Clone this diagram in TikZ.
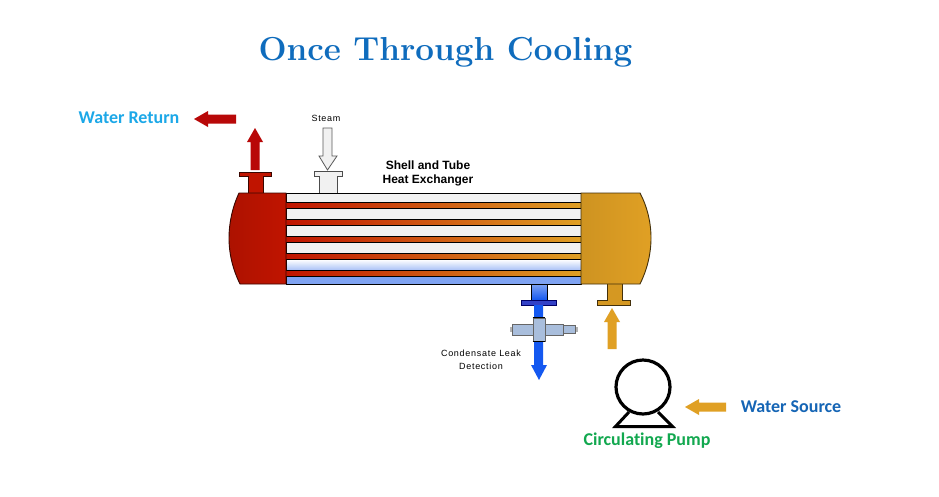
\documentclass[tikz,border=0pt]{standalone}
\usepackage{fontspec}
\setmainfont{Liberation Sans}
\newfontfamily\titlefont{Latin Modern Roman}
\newfontfamily\labelfont[Ligatures=NoCommon]{Carlito}
\usetikzlibrary{arrows}
\definecolor{hotred}{HTML}{C01400}
\definecolor{arrowred}{HTML}{B80808}
\definecolor{warmgold}{HTML}{E0A024}
\definecolor{coolblue}{HTML}{1458F0}
\definecolor{paleblue}{HTML}{7FA3F2}
\definecolor{valveblue}{HTML}{A9BEDC}
\definecolor{bandgray}{HTML}{F1F1F1}
\definecolor{titleblue}{HTML}{0F6CBD}
\definecolor{returnblue}{HTML}{1CA8E8}
\definecolor{sourceblue}{HTML}{1565B5}
\definecolor{pumpgreen}{HTML}{12A84F}
\tikzstyle{every picture}=[x=1pt, y=-1pt, line join=miter]
\tikzstyle{shell}=[draw=black, line width=0.8pt]
\tikzstyle{valvepart}=[draw=black!60, line width=0.6pt, fill=valveblue]
\tikzstyle{callout}=[font=\labelfont\bfseries\fontsize{18}{20}\selectfont, inner sep=0pt]
\tikzstyle{small}=[font=\fontsize{9}{12.5}\selectfont\addfontfeatures{LetterSpace=8}, inner sep=0pt, align=center]
\newcommand{\fatarrow}[5]{% colour, tip x, tip y, direction, length
  \fill[#1,shift={(#2,#3)},rotate=#4] (0,0) -- (14,-8) -- (14,-4.5) -- (#5,-4.5) -- (#5,4.5) -- (14,4.5) -- (14,8) -- cycle;}
\begin{document}
\begin{tikzpicture}
\useasboundingbox[fill=white] (0,0) rectangle (939,496);
% title and labels
\node[inner sep=0pt, text=titleblue, font=\titlefont\bfseries\fontsize{33.2}{36}\selectfont] (title) at (445.5,52) {Once Through Cooling};
\node[callout, text=returnblue] (waterreturn) at (129,118) {Water Return};
\node[callout, text=sourceblue] (watersource) at (791,407) {Water Source};
\node[callout, text=pumpgreen] (pumplabel) at (647,441) {Circulating Pump};
\node[small] (steamlabel) at (326,118) {Steam};
\node[small] (leaklabel) at (481,360) {Condensate Leak\\Detection};
\node[inner sep=0pt, align=center, font=\bfseries\fontsize{12}{14.5}\selectfont] (hxlabel) at (428,173.5) {Shell and Tube\\Heat Exchanger};
% nozzles on the shell
\path[shell, draw=black!70!hotred, fill=hotred] (248,194) -- (248,176) -- (239,176) -- (239,172) -- (271,172) -- (271,176) -- (263,176) -- (263,194);
\path[shell, draw=black!70, fill=bandgray] (319,194) -- (319,176) -- (314,176) -- (314,171) -- (342,171) -- (342,176) -- (337,176) -- (337,194);
\path[shell, top color=paleblue, bottom color=coolblue] (531,284) -- (531,300) -- (547,300) -- (547,284);
\path[shell, draw=black!60!blue, fill=blue!50!paleblue!80!black] (521,300) rectangle (556,305);
\path[shell, draw=black!70!warmgold, fill=warmgold!95!black] (607,284) -- (607,300) -- (597,300) -- (597,305) -- (630,305) -- (630,300) -- (622,300) -- (622,284);
% tube bundle
\path[left color=hotred, right color=warmgold] (286,193) rectangle (581,284);
\foreach \top/\bot in {193/202, 208/219, 225/236, 242/253}
  \draw[shell, fill=bandgray] (286,\top) rectangle (581,\bot);
\draw[shell, top color=white, bottom color=paleblue!70] (286,259.5) rectangle (581,270.5);
\draw[shell, fill=paleblue] (286,276) rectangle (581,284);
% heads
\draw[draw=black!70!hotred, line width=0.9pt, left color=hotred!90!black, right color=hotred] (286,193) -- (239,193) .. controls (232,208) and (229,224) .. (229,238) .. controls (229,254) and (233,270) .. (240,284) -- (286,284) -- cycle;
\draw[draw=black!70!warmgold, line width=0.9pt, left color=warmgold!92!black, right color=warmgold] (581,193) -- (640,193) .. controls (647,206) and (651,222) .. (651,238) .. controls (651,254) and (647,270) .. (640,284) -- (581,284) -- cycle;
% flow arrows
\fatarrow{arrowred}{194}{119}{0}{42}
\fatarrow{arrowred}{255}{128}{-90}{42}
\fatarrow{warmgold}{612}{308}{-90}{41}
\fatarrow{warmgold}{685}{407}{0}{41}
\fill[coolblue] (534,305) -- (543,305) -- (543,365) -- (547,365) -- (539,380) -- (531,365) -- (534,365) -- cycle;
\draw[draw=black!65, line width=0.8pt, fill=bandgray] (323,128) -- (332,128) -- (332,156) -- (337,156) -- (327.5,170) -- (319,156) -- (323,156) -- cycle;
% leak detection valve
\node[valvepart, minimum width=2pt, minimum height=5pt, inner sep=0pt, draw=none, fill=black!30] (stubleft) at (511,329.5) {};
\node[valvepart, minimum width=3pt, minimum height=5pt, inner sep=0pt, draw=none, fill=black!30] (stubright) at (576,329.5) {};
\node[valvepart, minimum width=21pt, minimum height=11pt, inner sep=0pt] (armleft) at (522.5,329.5) {};
\node[valvepart, minimum width=18pt, minimum height=11pt, inner sep=0pt] (armright) at (554,329.5) {};
\node[valvepart, minimum width=12pt, minimum height=7.5pt, inner sep=0pt] (armend) at (569,329.5) {};
\node[valvepart, minimum width=12pt, minimum height=23pt, inner sep=0pt] (valvebody) at (539,329.5) {};
\draw[black, line width=1pt] (valvebody.north west) -- (valvebody.north east);
\draw[black, line width=1pt] (valvebody.south west) -- (valvebody.south east);
% pump
\draw[black, line width=3pt] (629,412) -- (615.5,426.5) -- (672.5,426.5) -- (658,412);
\node[circle, draw=black, line width=3.2pt, fill=white, minimum size=54pt, inner sep=0pt] (pump) at (643,387) {};
\end{tikzpicture}
\end{document}
